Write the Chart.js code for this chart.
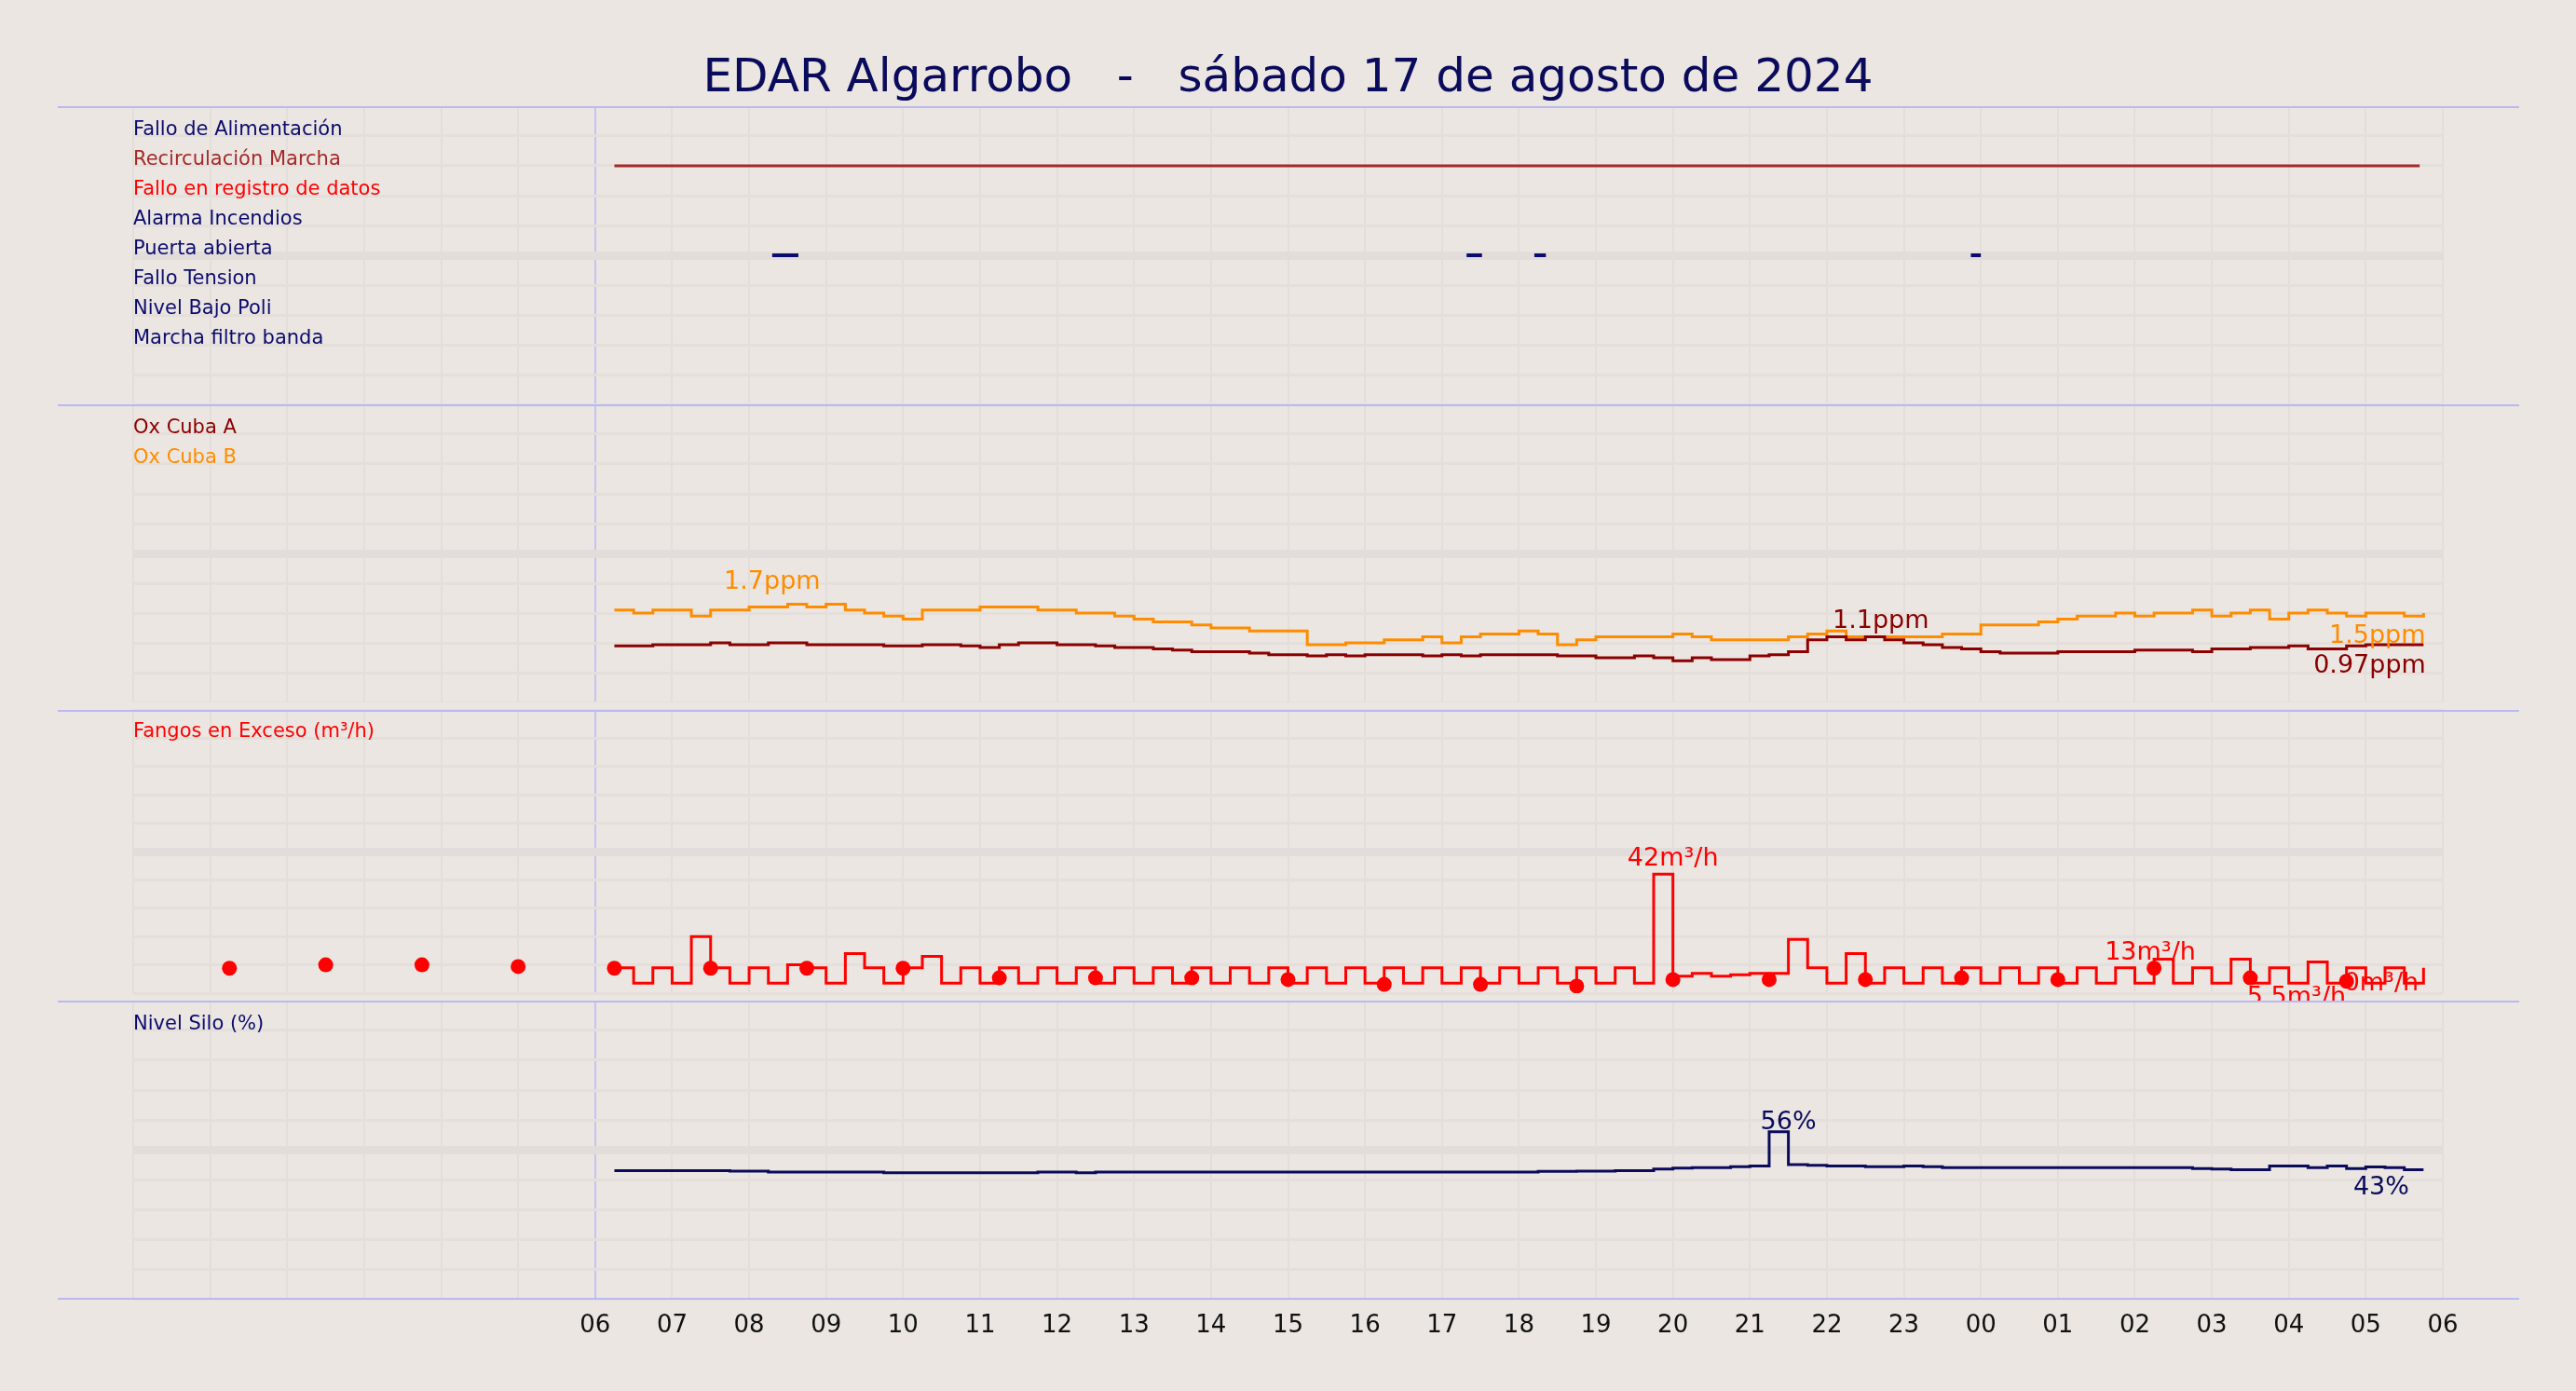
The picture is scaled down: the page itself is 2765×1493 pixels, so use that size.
<!DOCTYPE html>
<html>
<head>
<meta charset="utf-8">
<script src="https://cdn.jsdelivr.net/npm/chart.js@4.4.1/dist/chart.umd.min.js"></script>
<style>
  body { margin: 0; background: #ebe6e1; width: 2765px; height: 1493px; overflow: hidden; position: relative; font-family: "DejaVu Sans", sans-serif; }
  #title { position: absolute; top: 52px; left: 0; width: 2765px; text-align: center; font-size: 50px; color: #0b0b5c; white-space: pre; }
  canvas { position: absolute; left: 0; }
</style>
</head>
<body>
<div id="title">EDAR Algarrobo   -   sábado 17 de agosto de 2024</div>
<canvas id="p1" width="2765" height="320" style="top:114px"></canvas>
<canvas id="p2" width="2765" height="320" style="top:434px"></canvas>
<canvas id="p3" width="2765" height="320" style="top:754px"></canvas>
<canvas id="p4" width="2765" height="400" style="top:1074px"></canvas>
<script>
'use strict';

// panel 1: digital signals (level = row on the axis)
const signalNames = ['Fallo de Alimentación', 'Recirculación Marcha', 'Fallo en registro de datos', 'Alarma Incendios',
    'Puerta abierta', 'Fallo Tension', 'Nivel Bajo Poli', 'Marcha filtro banda'];
const signalColors = ['#0b0b6e', '#a52a2a', '#ff0000', '#0b0b6e', '#0b0b6e', '#0b0b6e', '#0b0b6e', '#0b0b6e'];
const signalLevels = [9, 8, 7, 6, 5, 4, 3, 2];
const recircOn = [[6.25, 29.7]];
const puertaOn = [[8.3, 8.64], [17.32, 17.52], [18.2, 18.35], [23.87, 24.0]];

// series sampled every 15 minutes starting 06:15
const sampleStart = 6.25;
const sampleStep = 0.25;

const oxB = [1.55, 1.5, 1.55, 1.55, 1.45, 1.55, 1.55, 1.6, 1.6, 1.65, 1.6, 1.65, 1.55, 1.5, 1.45, 1.4,
    1.55, 1.55, 1.55, 1.6, 1.6, 1.6, 1.55, 1.55, 1.5, 1.5, 1.45, 1.4, 1.35, 1.35, 1.3, 1.25,
    1.25, 1.2, 1.2, 1.2, 0.97, 0.97, 1.0, 1.0, 1.05, 1.05, 1.1, 1.0, 1.1, 1.15, 1.15, 1.2,
    1.15, 0.97, 1.05, 1.1, 1.1, 1.1, 1.1, 1.15, 1.1, 1.05, 1.05, 1.05, 1.05, 1.1, 1.15, 1.2,
    1.1, 1.1, 1.1, 1.1, 1.1, 1.15, 1.15, 1.3, 1.3, 1.3, 1.35, 1.4, 1.45, 1.45, 1.5, 1.45,
    1.5, 1.5, 1.55, 1.45, 1.5, 1.55, 1.4, 1.5, 1.55, 1.5, 1.45, 1.5, 1.5, 1.45, 1.5];
const oxA = [0.95, 0.95, 0.97, 0.97, 0.97, 1.0, 0.97, 0.97, 1.0, 1.0, 0.97, 0.97, 0.97, 0.97, 0.95, 0.95,
    0.97, 0.97, 0.95, 0.92, 0.97, 1.0, 1.0, 0.97, 0.97, 0.95, 0.92, 0.92, 0.9, 0.88, 0.85, 0.85,
    0.85, 0.83, 0.8, 0.8, 0.78, 0.8, 0.78, 0.8, 0.8, 0.8, 0.78, 0.8, 0.78, 0.8, 0.8, 0.8,
    0.8, 0.78, 0.78, 0.75, 0.75, 0.78, 0.75, 0.7, 0.75, 0.72, 0.72, 0.78, 0.8, 0.85, 1.05, 1.1,
    1.05, 1.1, 1.05, 1.0, 0.97, 0.92, 0.9, 0.85, 0.83, 0.83, 0.83, 0.85, 0.85, 0.85, 0.85, 0.88,
    0.88, 0.88, 0.85, 0.9, 0.9, 0.92, 0.92, 0.95, 0.9, 0.9, 0.95, 0.97, 0.97, 0.97, 0.97];

const fangos = [9, 3.5, 9, 3.5, 20, 9, 3.5, 9, 3.5, 10, 9, 3.5, 14, 9, 3.5, 9, 13, 3.5, 9,
    3.5, 9, 3.5, 9, 3.5, 9, 3.5, 9, 3.5, 9, 3.5, 9, 3.5, 9, 3.5, 9, 3.5, 9, 3.5, 9, 3.5, 9, 3.5, 9,
    3.5, 9, 3.5, 9, 3.5, 9, 3.5, 9, 3.5, 9, 3.5, 42, 6, 7, 6, 6.5, 7, 7, 19, 9, 3.5, 14, 3.5,
    9, 3.5, 9, 3.5, 9, 3.5, 9, 3.5, 9, 3.5, 9, 3.5, 9, 3.5, 12, 3.5, 9, 3.5, 12, 3.5, 9, 3.5, 11,
    3.5, 9, 3.5, 9, 3.5, 9];
const fangosDotTimes = [1.25, 2.5, 3.75, 5.0, 6.25, 7.5, 8.75, 10.0, 11.25, 12.5, 13.75, 15.0,
    16.25, 17.5, 18.75, 20.0, 21.25, 22.5, 23.75, 25.0, 26.25, 27.5, 28.75];
const fangosDots = [8.8, 10, 10, 9.4, 8.8, 8.8, 8.8, 8.8, 5.4, 5.4, 5.4, 4.8,
    3.1, 3.1, 2.5, 4.8, 4.8, 4.8, 5.4, 4.8, 8.8, 5.4, 4.2];

const silo = [43, 43, 43, 43, 43, 43, 42.8, 42.8, 42.5, 42.5, 42.5, 42.5, 42.5, 42.5, 42.3, 42.3,
    42.3, 42.3, 42.3, 42.3, 42.3, 42.3, 42.5, 42.5, 42.3, 42.5, 42.5, 42.5, 42.5, 42.5, 42.5, 42.5,
    42.5, 42.5, 42.5, 42.5, 42.5, 42.5, 42.5, 42.5, 42.5, 42.5, 42.5, 42.5, 42.5, 42.5, 42.5, 42.5,
    42.7, 42.7, 42.8, 42.8, 43, 43, 43.5, 43.8, 44, 44, 44.3, 44.5, 56, 45, 44.8, 44.5,
    44.5, 44.3, 44.3, 44.5, 44.3, 44, 44, 44, 44, 44, 44, 44, 44, 44, 44, 44,
    44, 44, 43.7, 43.5, 43.3, 43.3, 44.5, 44.5, 44, 44.5, 43.7, 44.2, 44, 43.3, 43.3];

const hourTicks = ['06', '07', '08', '09', '10', '11', '12', '13', '14', '15', '16', '17', '18',
    '19', '20', '21', '22', '23', '00', '01', '02', '03', '04', '05', '06'];

function sampled(values) {
    return values.map((v, i) => ({ x: sampleStart + i * sampleStep, y: v }));
}

function segments(spans, level) {
    const pts = [];
    for (const s of spans) {
        pts.push({ x: s[0], y: level }, { x: s[1], y: level }, { x: s[1], y: null });
    }
    return pts;
}

// draws the row labels, value labels and the panel separators
const panelDecor = {
    id: 'panelDecor',
    afterDraw(chart, args, opts) {
        const ctx = chart.ctx;
        const area = chart.chartArea;
        const ys = chart.scales.y;
        const xs = chart.scales.x;
        ctx.save();
        ctx.strokeStyle = '#b9b9f2';
        ctx.lineWidth = 2;
        ctx.beginPath();
        ctx.moveTo(62, area.top + 1); ctx.lineTo(2704, area.top + 1);
        if (opts.bottomLine) { ctx.moveTo(62, area.bottom); ctx.lineTo(2704, area.bottom); }
        ctx.stroke();
        ctx.font = '21px "DejaVu Sans"';
        ctx.textAlign = 'left';
        ctx.textBaseline = 'alphabetic';
        for (const l of opts.rows || []) {
            ctx.fillStyle = l.color;
            ctx.fillText(l.text, area.left, ys.getPixelForValue(l.y) - 1);
        }
        ctx.font = '27px "DejaVu Sans"';
        ctx.textAlign = 'center';
        for (const a of opts.notes || []) {
            ctx.fillStyle = a.color;
            ctx.fillText(a.text, xs.getPixelForValue(a.x), ys.getPixelForValue(a.y));
        }
        ctx.restore();
    }
};

function makePanel(id, datasets, yMax, yStep, rows, notes, bottom) {
    return new Chart(document.getElementById(id), {
        type: 'line',
        data: { datasets: datasets },
        plugins: [panelDecor],
        options: {
            responsive: false,
            animation: false,
            devicePixelRatio: 1,
            layout: { padding: { left: 143, right: 143, top: 0, bottom: 0 } },
            plugins: {
                legend: { display: false },
                tooltip: { enabled: false },
                panelDecor: { rows: rows, notes: notes, bottomLine: bottom }
            },
            elements: { point: { radius: 0 } },
            scales: {
                x: {
                    type: 'linear', min: 0, max: 30,
                    border: { display: false },
                    afterFit: s => { s.height = bottom ? 80 : 0; },
                    grid: {
                        drawTicks: false,
                        color: c => c.tick && c.tick.value === 6 ? '#c4c4f2' : '#e3ded9',
                        lineWidth: 2
                    },
                    ticks: {
                        display: bottom, stepSize: 1, autoSkip: false, maxRotation: 0,
                        padding: 14, color: '#111', font: { family: 'DejaVu Sans', size: 26 },
                        callback: v => v >= 6 ? hourTicks[v - 6] : ''
                    }
                },
                y: {
                    min: 0, max: yMax,
                    border: { display: false },
                    afterFit: s => { s.width = 0; },
                    grid: {
                        drawTicks: false,
                        color: c => c.index === 5 ? '#e2dcda' : '#e4dfdb',
                        lineWidth: c => c.index === 5 ? 9 : 3
                    },
                    ticks: { display: false, stepSize: yStep }
                }
            }
        }
    });
}

window.onload = () => {
    const rows1 = signalNames.map((n, i) => ({ text: n, y: signalLevels[i], color: signalColors[i] }));
    makePanel('p1', [
        { data: segments(recircOn, 8), borderColor: '#a52a2a', borderWidth: 3, spanGaps: false },
        { data: segments(puertaOn, 5), borderColor: '#0b0b6e', borderWidth: 4, spanGaps: false }
    ], 10, 1, rows1, [], false);

    makePanel('p2', [
        { data: sampled(oxA), borderColor: '#8b0000', borderWidth: 3, stepped: true },
        { data: sampled(oxB), borderColor: '#ff8c00', borderWidth: 3, stepped: true }
    ], 5, 0.5, [
        { text: 'Ox Cuba A', y: 4.5, color: '#8b0000' },
        { text: 'Ox Cuba B', y: 4.0, color: '#ff8c00' }
    ], [
        { text: '1.7ppm', x: 8.3, y: 1.9, color: '#ff8c00' },
        { text: '1.1ppm', x: 22.7, y: 1.25, color: '#8b0000' },
        { text: '1.5ppm', x: 29.15, y: 1.0, color: '#ff8c00' },
        { text: '0.97ppm', x: 29.05, y: 0.5, color: '#8b0000' }
    ], false);

    makePanel('p3', [
        { data: sampled(fangos), borderColor: '#ff0000', borderWidth: 3, stepped: true },
        {
            data: fangosDotTimes.map((t, i) => ({ x: t, y: fangosDots[i] })),
            showLine: false, pointRadius: 8, pointBackgroundColor: '#ff0000', pointBorderWidth: 0
        }
    ], 100, 10, [
        { text: 'Fangos en Exceso (m³/h)', y: 90, color: '#ff0000' }
    ], [
        { text: '42m³/h', x: 20.0, y: 45, color: '#ff0000' },
        { text: '13m³/h', x: 26.2, y: 12, color: '#ff0000' },
        { text: '5.5m³/h', x: 28.1, y: -4, color: '#ff0000' },
        { text: '0m³/h', x: 29.2, y: 1, color: '#ff0000' }
    ], false);

    makePanel('p4', [
        { data: sampled(silo), borderColor: '#0b0b5c', borderWidth: 3, stepped: true }
    ], 100, 10, [
        { text: 'Nivel Silo (%)', y: 90, color: '#0b0b6e' }
    ], [
        { text: '56%', x: 21.5, y: 57, color: '#0b0b5c' },
        { text: '43%', x: 29.2, y: 35, color: '#0b0b5c' }
    ], true);
};
</script>
</body>
</html>
